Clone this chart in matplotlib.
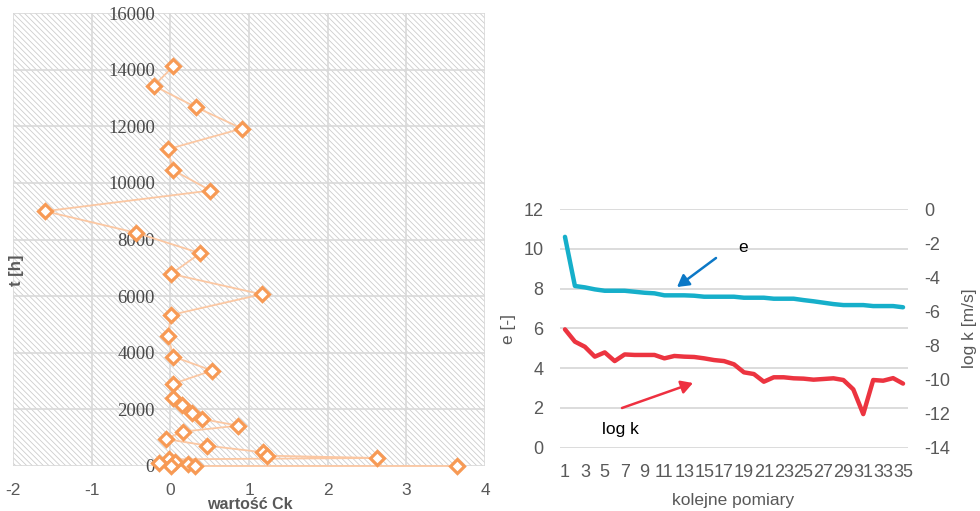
import matplotlib
matplotlib.use("Agg")
import matplotlib.pyplot as plt
from matplotlib.patches import Rectangle, FancyArrowPatch

plt.rcParams["axes.unicode_minus"] = False
plt.rcParams["hatch.linewidth"] = 0.6

# ---- left panel: Ck values against time ----
t_hours = [14120, 13430, 12680, 11920, 11190, 10460, 9730, 9000, 8240, 7515,
           6785, 6065, 5335, 4590, 3862, 3370, 2900, 2390, 2155, 1885,
           1660, 1425, 1213, 955, 718, 483, 365, 283, 236, 140,
           117, 70, 0, 0, 0]
ck_values = [0.04, -0.21, 0.32, 0.91, -0.03, 0.03, 0.51, -1.59, -0.44, 0.38,
             0.01, 1.16, 0.01, -0.03, 0.04, 0.53, 0.03, 0.03, 0.15, 0.27,
             0.40, 0.86, 0.16, -0.06, 0.47, 1.18, 1.23, 2.63, -0.02, 0.06,
             -0.14, 0.22, 0.01, 0.31, 3.65]
ck_ticks = [-2, -1, 0, 1, 2, 3, 4]
t_ticks = [0, 2000, 4000, 6000, 8000, 10000, 12000, 14000, 16000]

# ---- right panel: void ratio and permeability per measurement ----
measurement_no = list(range(1, 36))
e_values = [10.6, 8.13, 8.06, 7.96, 7.89, 7.89, 7.89, 7.84, 7.79, 7.76,
            7.66, 7.66, 7.66, 7.64, 7.59, 7.59, 7.59, 7.59, 7.54, 7.54,
            7.54, 7.49, 7.49, 7.49, 7.42, 7.36, 7.29, 7.22, 7.17, 7.17,
            7.17, 7.12, 7.12, 7.12, 7.06]
logk_values = [-7.06, -7.78, -8.08, -8.66, -8.41, -8.92, -8.53, -8.56, -8.56, -8.56,
               -8.76, -8.62, -8.66, -8.68, -8.76, -8.86, -8.92, -9.11, -9.58, -9.68,
               -10.13, -9.87, -9.87, -9.93, -9.95, -10.01, -9.97, -9.93, -10.03, -10.58,
               -12.03, -10.03, -10.07, -9.92, -10.24]
e_ticks = [0, 2, 4, 6, 8, 10, 12]
logk_ticks = [-14, -12, -10, -8, -6, -4, -2, 0]

W, H = 980, 511
fig = plt.figure(figsize=(W / 100, H / 100), dpi=100)
fig.patch.set_facecolor("white")

grey_txt = "#595959"
grid_c = "#D9D9D9"

# ================= left panel =================
axL = fig.add_axes([13 / W, 1 - 466 / H, (485 - 13) / W, (466 - 13) / H])
axL.set_xlim(-2, 4)
axL.set_ylim(0, 16000)
axL.patch.set_visible(False)
axL.add_patch(Rectangle((0, 0), 1, 1, transform=axL.transAxes,
                        facecolor="white", edgecolor="#CDCDCD",
                        hatch="\\" * 6, lw=0, zorder=0))
axL.set_xticks(ck_ticks)
axL.set_yticks(t_ticks)
axL.grid(True, color=grid_c, lw=1.2, zorder=1)
axL.set_axisbelow(True)
for s in axL.spines.values():
    s.set_visible(False)
axL.spines["left"].set_position(("data", 0))
axL.tick_params(axis="both", length=0)
axL.tick_params(axis="y", pad=11, labelcolor="#4a4a4a")
axL.tick_params(axis="x", pad=12, labelcolor=grey_txt, labelsize=12.5)
for lab in axL.get_yticklabels():
    lab.set_fontfamily("Liberation Serif")
    lab.set_fontsize(13.5)
for lab in axL.get_xticklabels():
    lab.set_fontfamily("Liberation Sans")

axL.plot(ck_values, t_hours, color="#FBC7A2", lw=1.3, zorder=3, clip_on=False)
axL.plot(ck_values, t_hours, ls="none", marker="D", ms=7.5, mfc="white",
         mec="#F79A55", mew=2.3, zorder=4, clip_on=False)

fig.text(250 / W, 1 - 504.5 / H, "wartość Ck", ha="center", va="center",
         fontsize=11.5, fontweight="bold", color=grey_txt, family="Liberation Sans")
fig.text(16 / W, 1 - 270 / H, "t [h]", ha="center", va="center", rotation=90,
         fontsize=12, fontweight="bold", color=grey_txt, family="Liberation Sans")

# ================= right panel =================
axR = fig.add_axes([560 / W, 1 - 447.7 / H, (908 - 560) / W, (447.7 - 209) / H])
axR2 = axR.twinx()
axR.set_xlim(0.5, 35.5)
axR.set_ylim(0, 12)
axR2.set_ylim(-14, 0)
axR.set_yticks(e_ticks)
axR2.set_yticks(logk_ticks)
axR.set_xticks(measurement_no[::2])
axR.grid(True, axis="y", color=grid_c, lw=1.3)
axR.set_axisbelow(True)
for a in (axR, axR2):
    for s in a.spines.values():
        s.set_visible(False)
    a.tick_params(length=0, labelcolor=grey_txt, labelsize=13, pad=12)
for lab in axR.get_xticklabels() + axR.get_yticklabels() + axR2.get_yticklabels():
    lab.set_fontfamily("Liberation Sans")

axR.plot(measurement_no, e_values, color="#16AFCA", lw=3.2, solid_joinstyle="round",
         solid_capstyle="round", zorder=3)
axR2.plot(measurement_no, logk_values, color="#EC3440", lw=3.2, solid_joinstyle="round",
          solid_capstyle="round", zorder=3)

fig.text(733 / W, 1 - 500 / H, "kolejne pomiary", ha="center", va="center",
         fontsize=12.5, color=grey_txt, family="Liberation Sans")
fig.text(509 / W, 1 - 329 / H, "e [-]", ha="center", va="center", rotation=90,
         fontsize=12.5, color=grey_txt, family="Liberation Sans")
fig.text(969 / W, 1 - 328 / H, "log k [m/s]", ha="center", va="center", rotation=90,
         fontsize=12.5, color=grey_txt, family="Liberation Sans")

# annotations with arrows
fig.text(743 / W, 1 - 248 / H, "e", ha="center", va="center", fontsize=12.5,
         color="black", family="Liberation Sans")
fig.text(620 / W, 1 - 429 / H, "log k", ha="center", va="center", fontsize=12.5,
         color="black", family="Liberation Sans")

def fig_xy(px, py):
    return (px / W, 1 - py / H)

fig.patches.append(FancyArrowPatch(fig_xy(716, 258), fig_xy(677, 287),
                                   transform=fig.transFigure,
                                   arrowstyle="-|>,head_length=7,head_width=4",
                                   color="#0C78C6", lw=1.8, shrinkA=0, shrinkB=0))
fig.patches.append(FancyArrowPatch(fig_xy(622, 408), fig_xy(693, 383),
                                   transform=fig.transFigure,
                                   arrowstyle="-|>,head_length=7,head_width=4",
                                   color="#EE3040", lw=1.8, shrinkA=0, shrinkB=0))

fig.savefig("out.png", dpi=100, facecolor="white")
